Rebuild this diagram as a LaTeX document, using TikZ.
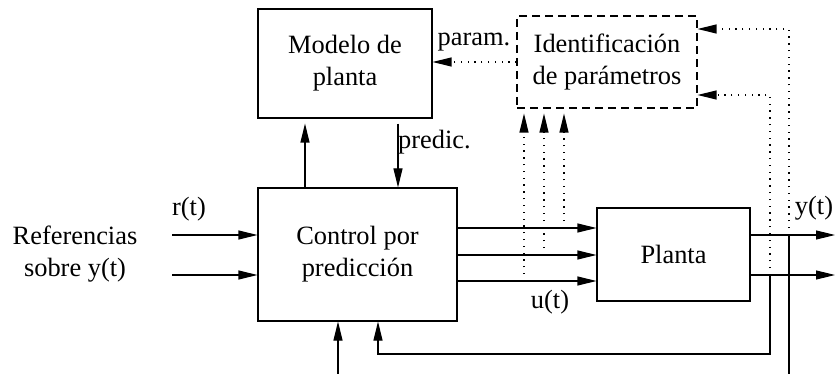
\documentclass[tikz,border=0pt]{standalone}
\usepackage{fontspec}
\setmainfont{Liberation Serif}
\usetikzlibrary{arrows.meta}
\begin{document}
\begin{tikzpicture}[x=1pt,y=-1pt,
  every node/.style={font=\fontsize{26.4}{32}\selectfont},
  blk/.style={draw,line width=1.1pt,minimum width=#1,inner sep=0pt,align=center},
  ln/.style={line width=1.1pt},
  arr/.style={ln,-{Triangle[length=19pt,width=9pt]}},
  dotl/.style={line width=1.2pt,dash pattern=on 1.3pt off 5.5pt},
  lbl/.style={inner sep=0pt,align=center}]
\useasboundingbox (0,0) rectangle (835,374);
% blocks
\node[blk=174pt,minimum height=109pt] (model) at (345,63.5) {Modelo de\\planta};
\node[blk=199pt,minimum height=133pt] (ctrl) at (357.5,254.5) {Control por\\predicción};
\node[blk=180pt,minimum height=92pt,dash pattern=on 8pt off 5pt] (ident) at (607,62) {Identificación\\de parámetros};
\node[blk=153pt,minimum height=93pt] (plant) at (673.5,254.5) {Planta};
% labels
\node[lbl] (ref) at (75,254) {Referencias\\sobre y(t)};
\node[lbl] (rt) at (189,209) {r(t)};
\node[lbl,anchor=west] (pred) at (398,142) {predic.};
\node[lbl] (par) at (474,42) {param.};
\node[lbl] (ut) at (550,302) {u(t)};
\node[lbl] (yt) at (814,208) {y(t)};
% coordinates
\coordinate (upx) at (305,0);
\coordinate (pdx) at (398,0);
\coordinate (r1) at (172,235);
\coordinate (r2) at (172,275);
\coordinate (u1) at (0,228);
\coordinate (u2) at (0,255);
\coordinate (u3) at (0,281);
\coordinate (y1) at (0,235);
\coordinate (y2) at (0,275);
\coordinate (o1) at (835,235);
\coordinate (o2) at (835,275);
\coordinate (f1) at (770,275);
\coordinate (f1b) at (770,354);
\coordinate (f1t) at (770,95);
\coordinate (f2) at (789,235);
\coordinate (f2b) at (789,374);
\coordinate (f2t) at (789,29);
\coordinate (fbx) at (378,0);
\coordinate (bt) at (338,374);
\coordinate (pm) at (0,62);
\coordinate (d1) at (524,281);
\coordinate (d2) at (544,255);
\coordinate (d3) at (564,228);
% connectors
\draw[arr,shorten >=5pt] (ctrl.north -| upx) -- (model.south -| upx);
\draw[arr,shorten <=5pt] (model.south -| pdx) -- (ctrl.north -| pdx);
\draw[arr] (r1) -- (ctrl.west |- r1);
\draw[arr] (r2) -- (ctrl.west |- r2);
\draw[arr] (ctrl.east |- u1) -- (plant.west |- u1);
\draw[arr] (ctrl.east |- u2) -- (plant.west |- u2);
\draw[arr] (ctrl.east |- u3) -- (plant.west |- u3);
\draw[arr] (plant.east |- y1) -- (o1);
\draw[arr] (plant.east |- y2) -- (o2);
\draw[arr] (f1) -- (f1b) -| (ctrl.south -| fbx);
\draw[ln] (f2) -- (f2b);
\draw[arr] (bt) -- (ctrl.south -| bt);
% dotted
\draw[dotl,-{Triangle[length=19pt,width=9pt]}] (d1) -- ([yshift=-5pt]ident.south -| d1);
\draw[dotl,-{Triangle[length=19pt,width=9pt]}] (d2) -- ([yshift=-5pt]ident.south -| d2);
\draw[dotl,-{Triangle[length=19pt,width=9pt]}] (d3) -- ([yshift=-5pt]ident.south -| d3);
\draw[dotl,-{Triangle[length=19pt,width=9pt]}] (f1) -- (f1t) -- (ident.east |- f1t);
\draw[dotl,-{Triangle[length=19pt,width=9pt]}] (f2) -- (f2t) -- (ident.east |- f2t);
\draw[dotl,-{Triangle[length=19pt,width=9pt]}] (ident.west |- pm) -- (model.east |- pm);
\end{tikzpicture}
\end{document}
